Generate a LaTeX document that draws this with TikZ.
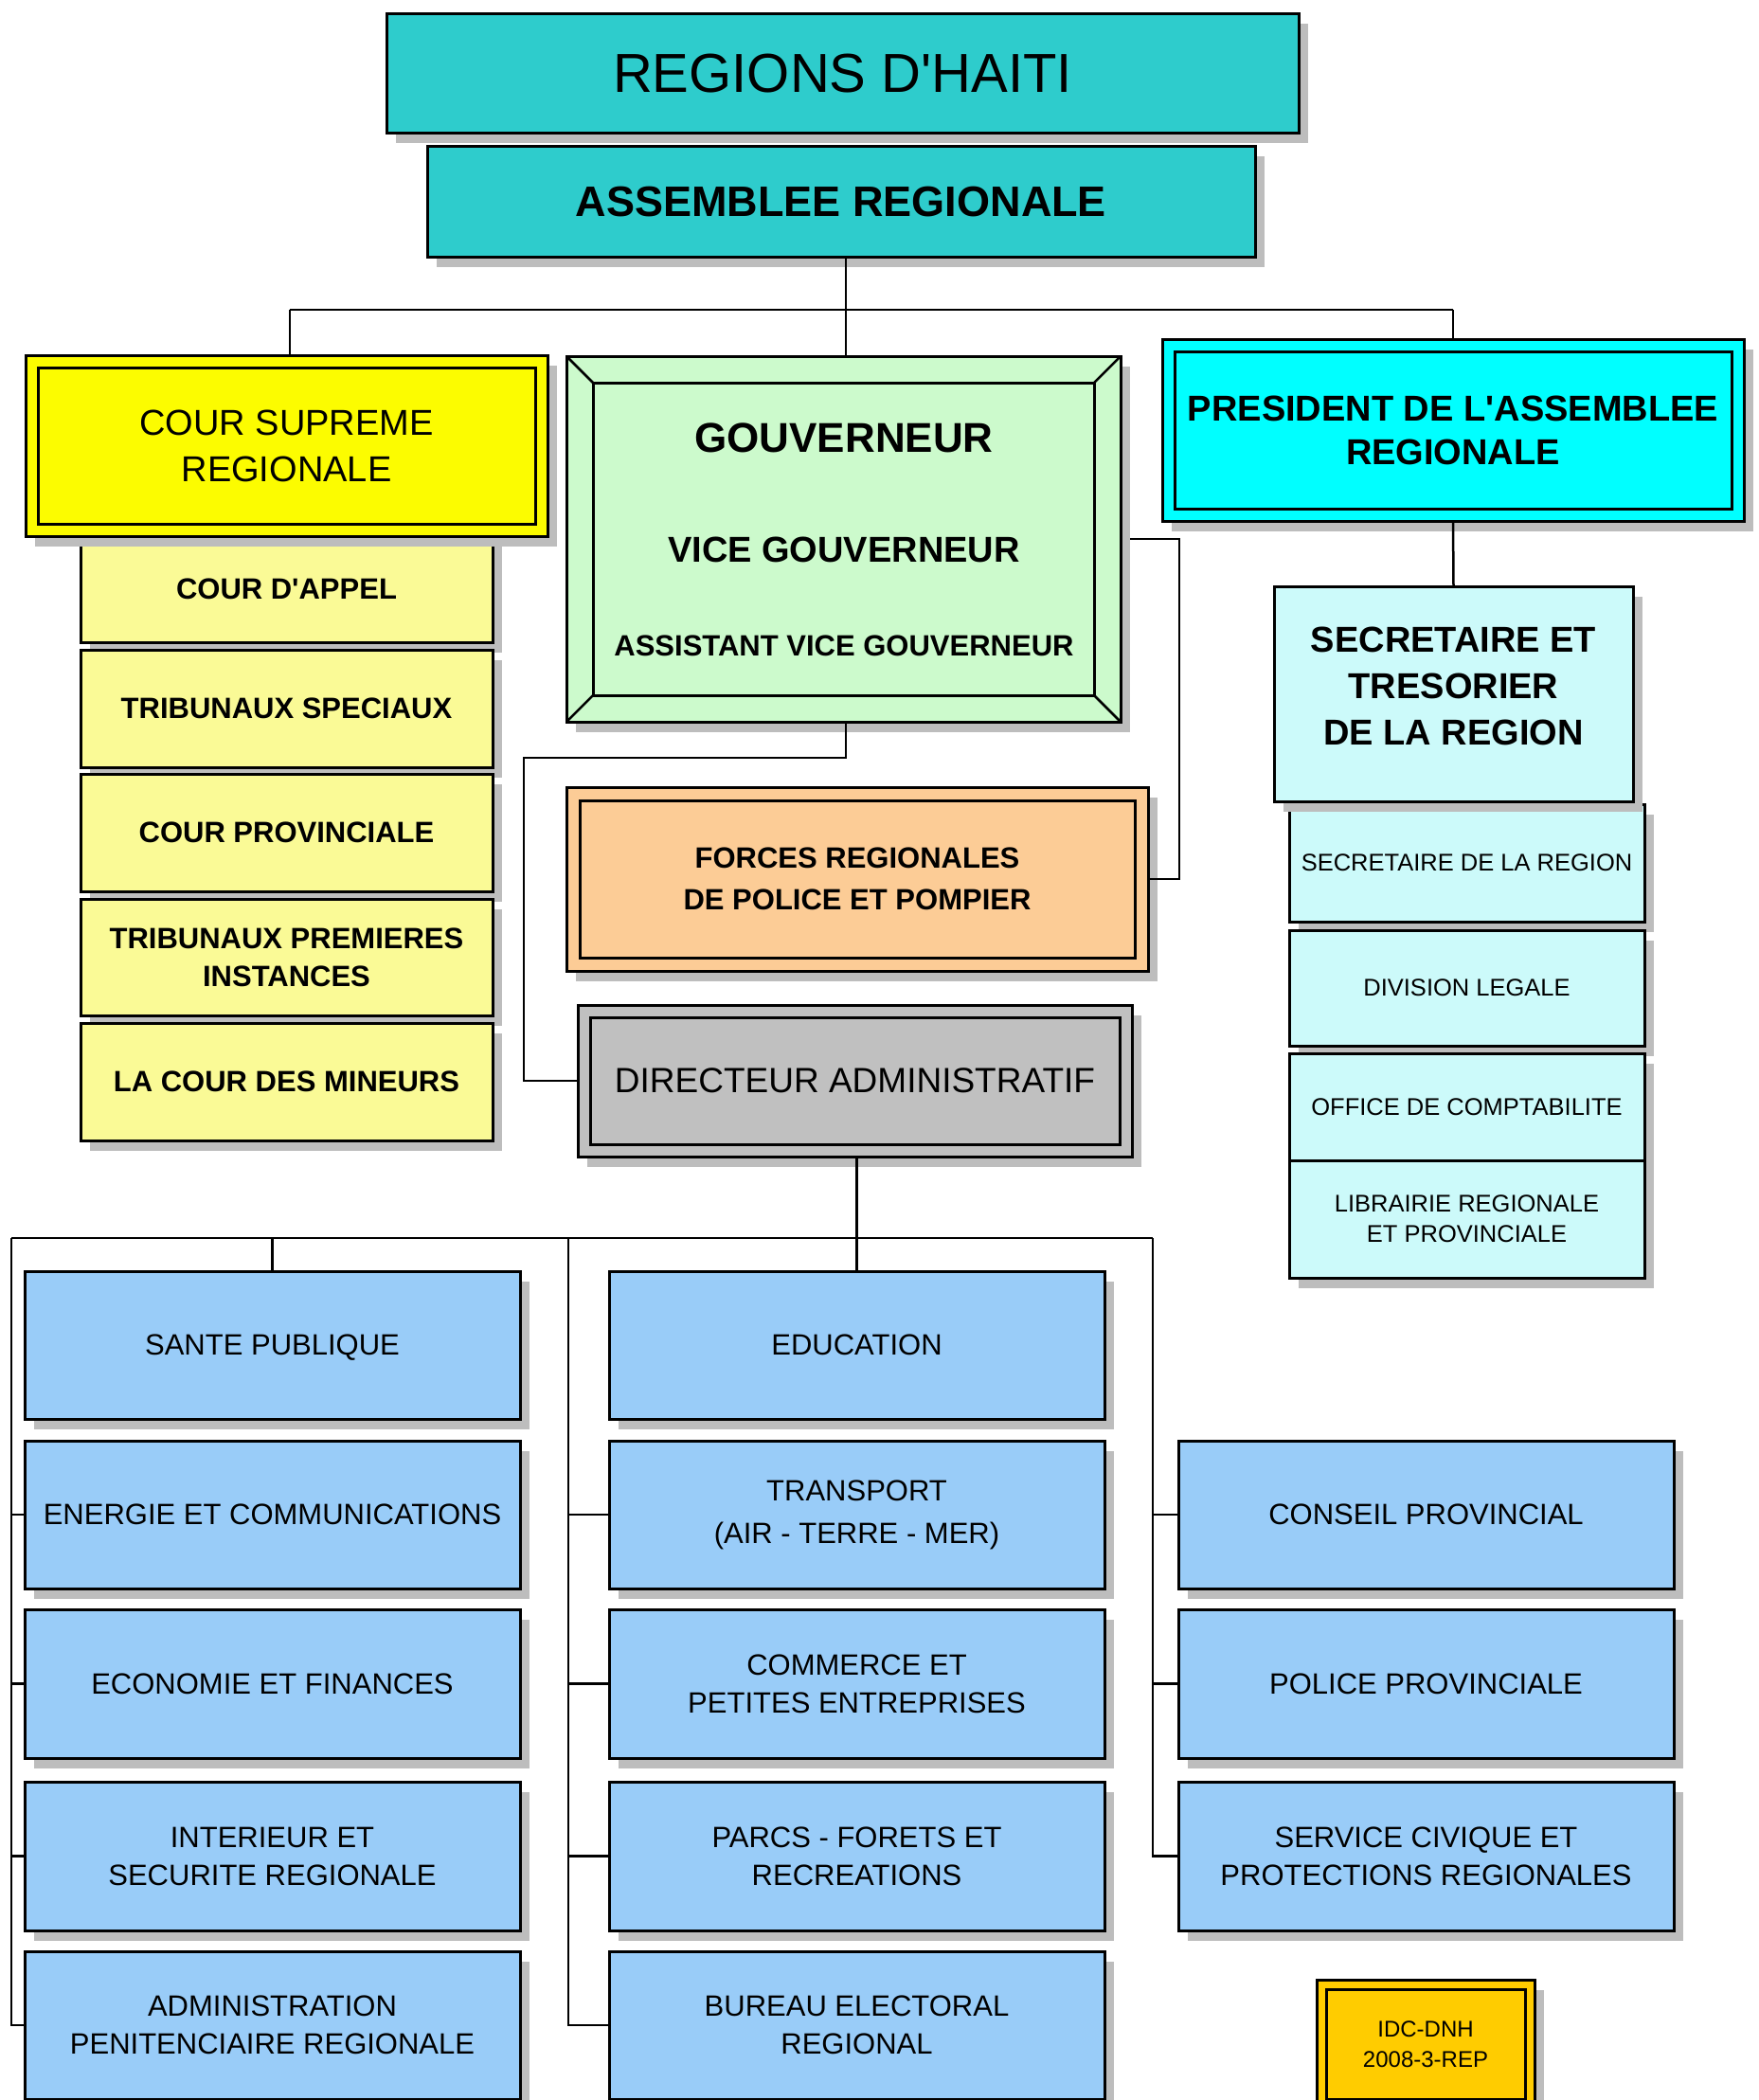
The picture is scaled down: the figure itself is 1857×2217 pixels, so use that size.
\documentclass[tikz,border=0pt]{standalone}
\usepackage{fontspec}
\setmainfont{Liberation Sans}[Ligatures=TeXOff]
\usetikzlibrary{shadows,calc}
\definecolor{shgray}{HTML}{BDBDBD}
\definecolor{cteal}{HTML}{2ECCCC}
\definecolor{cyel}{HTML}{FCFC00}
\definecolor{lyel}{HTML}{FAFA96}
\definecolor{lgreen}{HTML}{CCFACC}
\definecolor{peach}{HTML}{FCCC96}
\definecolor{dgray}{HTML}{C0C0C0}
\definecolor{pcyan}{HTML}{00FFFF}
\definecolor{lcyan}{HTML}{CCFAFA}
\definecolor{lblue}{HTML}{99CCF8}
\definecolor{gold}{HTML}{FFCC00}
\newcommand\bx[7]{\node[#6,minimum width={#4-#2},minimum height={#5-#3}] (#1) at ({(#2+#4)/2},{(#3+#5)/2}) {#7};}
\newcommand\inframe[2]{\draw[line width=3pt] ([xshift=#2pt,yshift=-#2pt]#1.north west) rectangle ([xshift=-#2pt,yshift=#2pt]#1.south east);}
\begin{document}
\begin{tikzpicture}[x=1pt,y=-1pt,
  box/.style={draw=black,line width=3pt,rectangle,inner sep=0pt,outer sep=0pt,align=center,text=black},
  shad/.style={drop shadow={shadow xshift=10pt,shadow yshift=-11pt,fill=shgray,opacity=1}},
  conn/.style={draw=black,line width=2.5pt},
  one/.style={text depth=0pt},
  blue/.style={box,shad,fill=lblue,font=\fontsize{31}{40}\selectfont},
  ysub/.style={box,shad,fill=lyel,font=\bfseries\fontsize{31}{40}\selectfont},
  csub/.style={box,shad,fill=lcyan,font=\fontsize{25.5}{32}\selectfont},
  txt/.style={inner sep=0pt,outer sep=0pt,align=center,text=black}]
\useasboundingbox[fill=white] (0,0) rectangle (1857,2217);

% title
\bx{title}{408}{14}{1371}{140}{box,shad,one,fill=cteal,font=\fontsize{58}{64}\selectfont}{REGIONS D'HAITI}
\bx{asm}{451}{154}{1325}{271}{box,shad,one,fill=cteal,font=\bfseries\fontsize{45}{50}\selectfont}{ASSEMBLEE REGIONALE}

% yellow column
\bx{ys1}{85}{566}{520}{678}{ysub,one}{COUR D'APPEL}
\bx{ys2}{85}{686}{520}{810}{ysub,one}{TRIBUNAUX SPECIAUX}
\bx{ys3}{85}{817}{520}{941}{ysub,one}{COUR PROVINCIALE}
\bx{ys4}{85}{949}{520}{1072}{ysub}{TRIBUNAUX PREMIERES\\INSTANCES}
\bx{ys5}{85}{1080}{520}{1204}{ysub,one}{LA COUR DES MINEURS}
\bx{cs}{27}{375}{578}{566}{box,shad,fill=cyel,font=\fontsize{38}{49}\selectfont}{COUR SUPREME\\REGIONALE}
\inframe{cs}{13}

% gouverneur
\bx{gouv}{598}{376}{1183}{762}{box,shad,fill=lgreen}{}
\inframe{gouv}{28}
\draw[line width=2.5pt] (gouv.north west) -- ([xshift=28pt,yshift=-28pt]gouv.north west);
\draw[line width=2.5pt] (gouv.north east) -- ([xshift=-28pt,yshift=-28pt]gouv.north east);
\draw[line width=2.5pt] (gouv.south west) -- ([xshift=28pt,yshift=28pt]gouv.south west);
\draw[line width=2.5pt] (gouv.south east) -- ([xshift=-28pt,yshift=28pt]gouv.south east);
\node[txt,font=\bfseries\fontsize{44}{50}\selectfont] (gv1) at (891,462) {GOUVERNEUR};
\node[txt,font=\bfseries\fontsize{38}{44}\selectfont] (gv2) at (891,580) {VICE GOUVERNEUR};
\node[txt,font=\bfseries\fontsize{31}{36}\selectfont] (gv3) at (891,682) {ASSISTANT VICE GOUVERNEUR};

% forces and directeur
\bx{forces}{598}{831}{1212}{1025}{box,shad,fill=peach,font=\bfseries\fontsize{31}{44}\selectfont}{FORCES REGIONALES\\DE POLICE ET POMPIER}
\inframe{forces}{14}
\bx{dir}{610}{1061}{1195}{1221}{box,shad,one,fill=dgray,font=\fontsize{37}{44}\selectfont}{DIRECTEUR ADMINISTRATIF}
\inframe{dir}{13}

% president and secretaire
\bx{pres}{1227}{358}{1841}{550}{box,shad,fill=pcyan,font=\bfseries\fontsize{38}{46}\selectfont}{PRESIDENT DE L'ASSEMBLEE\\REGIONALE}
\inframe{pres}{13}
\bx{cs1}{1361}{849}{1736}{973}{csub,one}{SECRETAIRE DE LA REGION}
\bx{cs2}{1361}{982}{1736}{1104}{csub,one}{DIVISION LEGALE}
\bx{cs3}{1361}{1112}{1736}{1225}{csub,one}{OFFICE DE COMPTABILITE}
\bx{cs4}{1361}{1225}{1736}{1349}{csub}{LIBRAIRIE REGIONALE\\ET PROVINCIALE}
\bx{sec}{1345}{619}{1724}{846}{box,shad,fill=lcyan}{}
\node[txt,font=\bfseries\fontsize{38}{49}\selectfont] (sect) at (1534.5,724) {SECRETAIRE ET\\TRESORIER\\DE LA REGION};

% blue boxes
\bx{a1}{26}{1342}{549}{1498}{blue,one}{SANTE PUBLIQUE}
\bx{a2}{26}{1521}{549}{1677}{blue,one}{ENERGIE ET COMMUNICATIONS}
\bx{a3}{26}{1699}{549}{1856}{blue,one}{ECONOMIE ET FINANCES}
\bx{a4}{26}{1881}{549}{2038}{blue}{INTERIEUR ET\\SECURITE REGIONALE}
\bx{a5}{26}{2060}{549}{2216}{blue}{ADMINISTRATION\\PENITENCIAIRE REGIONALE}
\bx{c1}{643}{1342}{1166}{1498}{blue,one}{EDUCATION}
\bx{c2}{643}{1521}{1166}{1677}{blue}{TRANSPORT\\[5pt](AIR - TERRE - MER)}
\bx{c3}{643}{1699}{1166}{1856}{blue}{COMMERCE ET\\PETITES ENTREPRISES}
\bx{c4}{643}{1881}{1166}{2038}{blue}{PARCS - FORETS ET\\RECREATIONS}
\bx{c5}{643}{2060}{1166}{2216}{blue}{BUREAU ELECTORAL\\REGIONAL}
\bx{e2}{1244}{1521}{1767}{1677}{blue,one}{CONSEIL PROVINCIAL}
\bx{e3}{1244}{1699}{1767}{1856}{blue,one}{POLICE PROVINCIALE}
\bx{e4}{1244}{1881}{1767}{2038}{blue}{SERVICE CIVIQUE ET\\PROTECTIONS REGIONALES}

% stamp
\bx{idc}{1390}{2090}{1620}{2226}{box,shad,fill=gold,font=\fontsize{24}{32}\selectfont}{IDC-DNH\\2008-3-REP}
\inframe{idc}{10}

% connectors
\coordinate (tb) at (0,327);
\coordinate (gx) at (893,0);
\coordinate (cx) at (306,0);
\draw[conn] (asm.south -| gx) -- (gouv.north -| gx);
\draw[conn] (cx |- tb) -- (pres.north |- tb);
\draw[conn] (cx |- tb) -- (cs.north -| cx);
\draw[conn] (pres.north |- tb) -- (pres.north);
\draw[conn] (pres.south) -- (sec.north);
\coordinate (gr) at (1245,0);
\draw[conn] ([xshift=10pt]gouv.east) -- (gouv.east -| gr) |- (forces.east);
\coordinate (gd) at (553,800);
\draw[conn] (gouv.south -| gx) |- (gd) |- (dir.west);
\coordinate (b1) at (12,1307);
\coordinate (b2) at (600,1307);
\coordinate (b3) at (1217,1307);
\draw[conn] (dir.south -| c1.north) -- (c1.north);
\draw[conn] (b1) -- (b3);
\draw[conn] (a1.north |- b1) -- (a1.north);
\draw[conn] (b1) |- (a5.west);
\draw[conn] (a2.west -| b1) -- (a2.west);
\draw[conn] (a3.west -| b1) -- (a3.west);
\draw[conn] (a4.west -| b1) -- (a4.west);
\draw[conn] (b2) |- (c5.west);
\draw[conn] (c2.west -| b2) -- (c2.west);
\draw[conn] (c3.west -| b2) -- (c3.west);
\draw[conn] (c4.west -| b2) -- (c4.west);
\draw[conn] (b3) |- (e4.west);
\draw[conn] (e2.west -| b3) -- (e2.west);
\draw[conn] (e3.west -| b3) -- (e3.west);
\end{tikzpicture}
\end{document}
